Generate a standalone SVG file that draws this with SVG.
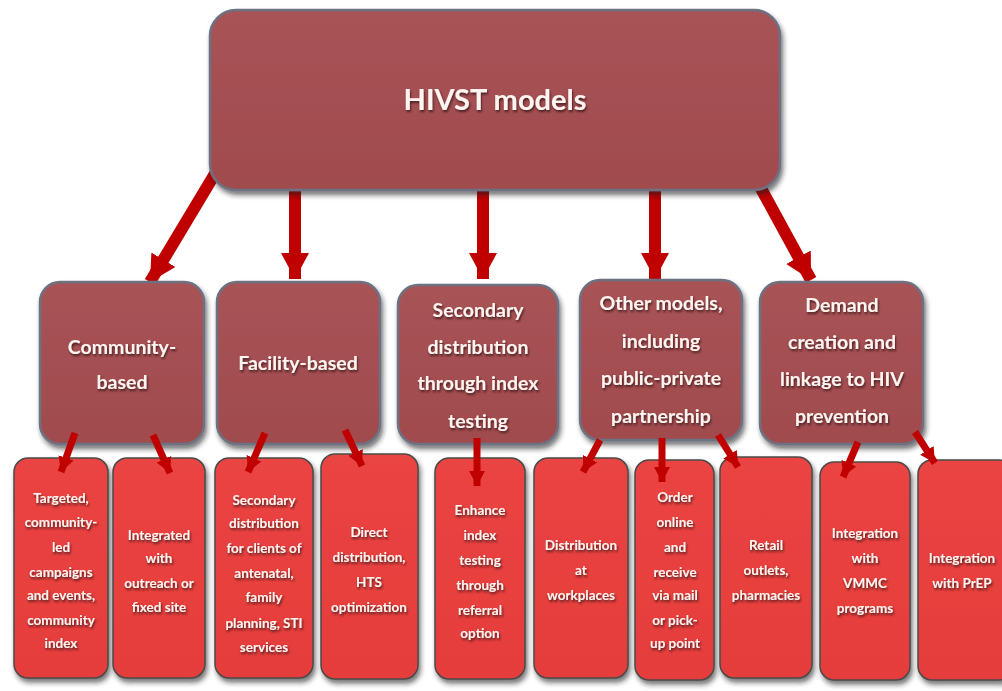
<svg xmlns="http://www.w3.org/2000/svg" width="1002" height="691" viewBox="0 0 1002 691">
<defs>
<linearGradient id="gMid" x1="0" y1="0" x2="0" y2="1"><stop offset="0" stop-color="#a85356"/><stop offset="1" stop-color="#a04b4e"/></linearGradient>
<linearGradient id="gBot" x1="0" y1="0" x2="0" y2="1"><stop offset="0" stop-color="#ea4442"/><stop offset="1" stop-color="#e53c3b"/></linearGradient>
<filter id="sh" x="-10%" y="-10%" width="125%" height="125%"><feDropShadow dx="2" dy="4" stdDeviation="2.5" flood-color="#222" flood-opacity="0.6"/></filter>
<filter id="tsh" x="-10%" y="-20%" width="125%" height="150%"><feDropShadow dx="1" dy="2" stdDeviation="1" flood-color="#3a1212" flood-opacity="0.85"/></filter>
<marker id="bigHead" markerUnits="userSpaceOnUse" markerWidth="30" markerHeight="30" viewBox="0 0 30 30" refX="26" refY="15" orient="auto"><path d="M0,1 L26,15 L0,29 Z" fill="#c00000"/></marker>
<marker id="smHead" markerUnits="userSpaceOnUse" markerWidth="18" markerHeight="18" viewBox="0 0 18 18" refX="15" refY="9" orient="auto"><path d="M0,1 L15,9 L0,17 Z" fill="#c00000"/></marker>
</defs>
<style>
.mid{fill:url(#gMid);stroke:#6d7282;stroke-width:2.5;filter:url(#sh)}
.bot{fill:url(#gBot);stroke:#4a4a4a;stroke-width:1.5;filter:url(#sh)}
.tt{font-family:Lato,"Open Sans",sans-serif;font-weight:bold;fill:#fff4f0;text-anchor:middle;filter:url(#tsh)}
.t1{font-size:29px}
.t2{font-size:19.5px}
.t3{font-size:13.5px}
.big{stroke:#c00000;stroke-width:12;fill:none;marker-end:url(#bigHead)}
.sm{stroke:#c00000;stroke-width:7;fill:none;marker-end:url(#smHead)}
</style>
<rect width="1002" height="691" fill="#ffffff"/>

<g id="connectors">
<line class="big" x1="216" y1="172" x2="150" y2="282"/>
<line class="big" x1="295" y1="190" x2="295" y2="279"/>
<line class="big" x1="483" y1="190" x2="483" y2="279"/>
<line class="big" x1="655" y1="190" x2="655" y2="279"/>
<line class="big" x1="752" y1="172" x2="811" y2="280"/>
</g>

<g id="n-top"><rect class="mid" x="210" y="10" width="570" height="180" rx="26"/><text class="tt t1" x="495" y="110">HIVST models</text></g>

<g id="n-community"><rect class="mid" x="40" y="282" width="164" height="162" rx="20"/><text class="tt t2"><tspan x="122" y="354">Community-</tspan><tspan x="122" y="389">based</tspan></text></g>
<g id="n-facility"><rect class="mid" x="217" y="282" width="163" height="162" rx="20"/><text class="tt t2" x="298" y="370">Facility-based</text></g>
<g id="n-secondary"><rect class="mid" x="398" y="285" width="160" height="159" rx="20"/><text class="tt t2"><tspan x="478" y="317">Secondary</tspan><tspan x="478" y="354">distribution</tspan><tspan x="478" y="390">through index</tspan><tspan x="478" y="428">testing</tspan></text></g>
<g id="n-other"><rect class="mid" x="580" y="280" width="162" height="160" rx="20"/><text class="tt t2"><tspan x="661" y="310">Other models,</tspan><tspan x="661" y="348">including</tspan><tspan x="661" y="385">public-private</tspan><tspan x="661" y="423">partnership</tspan></text></g>
<g id="n-demand"><rect class="mid" x="760" y="282" width="163" height="162" rx="20"/><text class="tt t2"><tspan x="842" y="312">Demand</tspan><tspan x="842" y="349">creation and</tspan><tspan x="842" y="386">linkage to HIV</tspan><tspan x="842" y="423">prevention</tspan></text></g>

<g id="n-b1"><rect class="bot" x="14" y="458" width="94" height="220" rx="14"/><text class="tt t3"><tspan x="61" y="503">Targeted,</tspan><tspan x="61" y="527">community-</tspan><tspan x="61" y="552">led</tspan><tspan x="61" y="577">campaigns</tspan><tspan x="61" y="600">and events,</tspan><tspan x="61" y="625">community</tspan><tspan x="61" y="648">index</tspan></text></g>
<g id="n-b2"><rect class="bot" x="113" y="458" width="92" height="220" rx="14"/><text class="tt t3"><tspan x="159" y="540">Integrated</tspan><tspan x="159" y="563">with</tspan><tspan x="159" y="588">outreach or</tspan><tspan x="159" y="612">fixed site</tspan></text></g>
<g id="n-b3"><rect class="bot" x="215" y="458" width="98" height="220" rx="14"/><text class="tt t3"><tspan x="264" y="505">Secondary</tspan><tspan x="264" y="528">distribution</tspan><tspan x="264" y="553">for clients of</tspan><tspan x="264" y="578">antenatal,</tspan><tspan x="264" y="602">family</tspan><tspan x="264" y="628">planning, STI</tspan><tspan x="264" y="652">services</tspan></text></g>
<g id="n-b4"><rect class="bot" x="321" y="454" width="97" height="225" rx="14"/><text class="tt t3"><tspan x="369" y="537">Direct</tspan><tspan x="369" y="562">distribution,</tspan><tspan x="369" y="587">HTS</tspan><tspan x="369" y="612">optimization</tspan></text></g>
<g id="n-b5"><rect class="bot" x="435" y="458" width="90" height="221" rx="14"/><text class="tt t3"><tspan x="480" y="515">Enhance</tspan><tspan x="480" y="540">index</tspan><tspan x="480" y="565">testing</tspan><tspan x="480" y="590">through</tspan><tspan x="480" y="615">referral</tspan><tspan x="480" y="638">option</tspan></text></g>
<g id="n-b6"><rect class="bot" x="534" y="458" width="94" height="220" rx="14"/><text class="tt t3"><tspan x="581" y="550">Distribution</tspan><tspan x="581" y="575">at</tspan><tspan x="581" y="600">workplaces</tspan></text></g>
<g id="n-b7"><rect class="bot" x="635" y="460" width="79" height="220" rx="14"/><text class="tt t3"><tspan x="675" y="502">Order</tspan><tspan x="675" y="527">online</tspan><tspan x="675" y="552">and</tspan><tspan x="675" y="577">receive</tspan><tspan x="675" y="600">via mail</tspan><tspan x="675" y="625">or pick-</tspan><tspan x="675" y="648">up point</tspan></text></g>
<g id="n-b8"><rect class="bot" x="720" y="457" width="92" height="221" rx="14"/><text class="tt t3"><tspan x="766" y="550">Retail</tspan><tspan x="766" y="575">outlets,</tspan><tspan x="766" y="600">pharmacies</tspan></text></g>
<g id="n-b9"><rect class="bot" x="820" y="462" width="90" height="218" rx="14"/><text class="tt t3"><tspan x="865" y="538">Integration</tspan><tspan x="865" y="563">with</tspan><tspan x="865" y="588">VMMC</tspan><tspan x="865" y="613">programs</tspan></text></g>
<g id="n-b10"><rect class="bot" x="918" y="460" width="96" height="220" rx="14"/><text class="tt t3"><tspan x="962" y="563">Integration</tspan><tspan x="962" y="588">with PrEP</tspan></text></g>

<g id="connectors-lower">
<line class="sm" x1="75" y1="433" x2="61" y2="472"/>
<line class="sm" x1="153" y1="435" x2="170" y2="473"/>
<line class="sm" x1="265" y1="433" x2="248" y2="472"/>
<line class="sm" x1="345" y1="430" x2="362" y2="466"/>
<line class="sm" x1="477" y1="438" x2="477" y2="486"/>
<line class="sm" x1="600" y1="440" x2="583" y2="472"/>
<line class="sm" x1="662" y1="438" x2="662" y2="482"/>
<line class="sm" x1="718" y1="435" x2="738" y2="467"/>
<line class="sm" x1="858" y1="442" x2="843" y2="477"/>
<line class="sm" x1="915" y1="432" x2="935" y2="463"/>
</g>
</svg>
